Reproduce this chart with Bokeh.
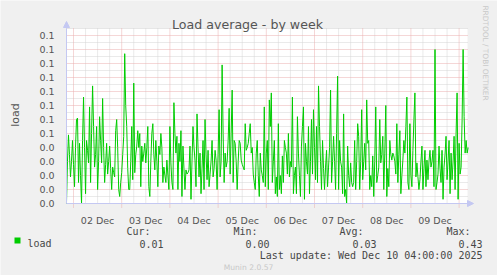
import numpy as np
import pandas as pd
from bokeh.plotting import figure
from bokeh.models import FixedTicker, Label, Arrow, NormalHead, Range1d, BoxAnnotation
from bokeh.embed import file_html
from bokeh.resources import INLINE

# ---------------- data ----------------
# load average, in thousandths (one value per 30 minutes)
load_milli = [
    0, 30, 49, 35, 19, 30, 45, 28, 12, 40, 60, 61, 15, 43, 20, 0, 45, 76, 40, 7,
    45, 38, 29, 69, 15, 50, 84, 55, 26, 35, 55, 10, 30, 62, 45, 29, 75, 40, 15, 28,
    43, 21, 30, 41, 25, 10, 26, 22, 19, 52,
    60, 40, 10, 5, 15, 22, 35, 48, 107, 70, 55, 25, 10, 10, 30, 55, 17, 86, 22, 35,
    41, 52, 40, 50, 12, 41, 30, 36, 43, 29, 40, 55, 12, 5, 30, 50, 57, 35, 24, 45,
    30, 12, 41, 35, 50, 40, 15, 26, 20, 15,
    31, 20, 10, 55, 29, 15, 10, 72, 50, 36, 48, 10, 43, 30, 52, 5, 41, 25, 10, 24,
    21, 22, 24, 41, 3, 30, 55, 40, 31, 12, 64, 40, 19, 36, 7, 25, 45, 10, 60, 35,
    17, 38, 12, 21, 30, 45, 19, 25, 38, 31,
    10, 35, 67, 19, 30, 99, 50, 15, 36, 26, 30, 45, 68, 21, 50, 81, 15, 45, 43, 30,
    10, 30, 45, 43, 31, 28, 26, 24, 57, 38, 40, 43, 50, 57, 36, 40, 21, 15, 10, 36,
    45, 20, 5, 36, 24, 20, 15, 69, 12, 36,
    45, 10, 74, 55, 79, 15, 30, 45, 7, 19, 5, 57, 10, 20, 7, 34, 15, 45, 40, 36,
    21, 50, 19, 30, 26, 76, 7, 20, 26, 7, 62, 36, 20, 5, 41, 55, 69, 3, 43, 30,
    21, 55, 7, 30, 60, 21, 67, 40, 17, 55,
    15, 84, 55, 30, 10, 45, 25, 10, 26, 38, 12, 26, 40, 81, 15, 30, 48, 30, 10, 50,
    91, 10, 45, 30, 26, 7, 64, 5, 10, 0, 41, 20, 12, 29, 15, 12, 15, 45, 10, 30,
    57, 48, 10, 30, 67, 17, 30, 43, 24, 74,
    43, 45, 10, 20, 12, 34, 5, 30, 69, 15, 20, 26, 60, 29, 35, 48, 10, 36, 70, 5,
    25, 12, 45, 35, 31, 36, 34, 30, 21, 57, 15, 35, 52, 7, 20, 31, 45, 36, 55, 76,
    15, 10, 57, 20, 12, 38, 60, 79, 19, 29,
    19, 10, 17, 30, 41, 10, 25, 38, 12, 31, 17, 30, 38, 26, 30, 38, 12, 110, 10, 15,
    21, 41, 25, 15, 38, 3, 26, 35, 48, 17, 30, 45, 7, 36, 17, 30, 48, 10, 50, 79,
    3, 43, 21, 26, 60, 110, 62, 36, 45, 36, 40,
]
series_end = "2025-12-10 04:30"
step = "30min"
origin = "2025-12-02 00:00"

day_labels = ["02 Dec", "03 Dec", "04 Dec", "05 Dec", "06 Dec", "07 Dec", "08 Dec", "09 Dec"]
y_ticks = [0.00, 0.01, 0.02, 0.03, 0.04, 0.05, 0.06, 0.07, 0.08, 0.09, 0.10, 0.11, 0.12]
y_tick_labels = ["0.0", "0.0", "0.0", "0.0", "0.0", "0.1", "0.1", "0.1", "0.1", "0.1", "0.1", "0.1", "0.1"]

title_text = "Load average - by week"
y_label_text = "load"
watermark = "RRDTOOL / TOBI OETIKER"
series_name = "load"
stat_headers = ["Cur:", "Min:", "Avg:", "Max:"]
stat_values = ["0.01", "0.00", "0.03", "0.43"]
last_update = "Last update: Wed Dec 10 04:00:00 2025"
version_text = "Munin 2.0.57"

# ---------------- derived ----------------
times = pd.date_range(end=series_end, periods=len(load_milli), freq=step)
hours = ((times - pd.Timestamp(origin)) / pd.Timedelta(hours=1)).to_numpy()
load = np.array(load_milli, dtype=float) / 1000.0

n_days = len(day_labels)
midnights = [24 * k for k in range(n_days + 1)]
noons = [24 * k + 12 for k in range(n_days)]
six_hours = [6 * k for k in range(0, 4 * n_days + 1) if (6 * k) % 24 != 0]
half_steps = [round(v + 0.005, 3) for v in y_ticks]

# ---------------- layout (canvas px -> data) ----------------
W, H = 497, 275
FL, FR, FT, FB = 66, 467, 28, 203        # plot area edges in canvas px
y_top = 0.125
px_per_hour = 48.2 / 24
x0 = -(73 - FL) / px_per_hour
x1 = x0 + (FR - FL) / px_per_hour
px_per_unit = (FB - FT) / y_top


def dx(px):
    return x0 + (px - FL) / px_per_hour


def dy(py):
    return (FB - py) / px_per_unit


axis_color = "#c4c8f2"
grey_grid = "#d4d4d4"
red_grid = "#eaaeae"
text_grey = "#555555"
text_dark = "#474747"
green = "#00cc00"

p = figure(width=W, height=H, x_range=Range1d(dx(0), dx(W)), y_range=Range1d(dy(H), dy(0)),
           output_backend="svg", toolbar_location=None, title=None, min_border=0,
           min_border_left=0, min_border_right=0, min_border_top=0, min_border_bottom=0,
           background_fill_color="#f0f0f0", border_fill_color="#f0f0f0", outline_line_color=None)
p.xgrid.visible = False
p.ygrid.visible = False

# plot area
p.quad(left=[x0], right=[x1], bottom=[0], top=[y_top], fill_color="white", line_color=None)

# grid (dotted): minor grey, major red
n6, nm, nh, nt = len(six_hours), len(midnights), len(half_steps), len(y_ticks) - 1
p.segment(x0=six_hours, y0=[0] * n6, x1=six_hours, y1=[y_top] * n6,
          line_color=grey_grid, line_width=1, line_dash="1 1")
p.segment(x0=[x0] * nh, y0=half_steps, x1=[x1] * nh, y1=half_steps,
          line_color=grey_grid, line_width=1, line_dash="1 1")
p.segment(x0=midnights, y0=[dy(FB + 4)] * nm, x1=midnights, y1=[y_top] * nm,
          line_color=red_grid, line_width=1, line_dash="1 1")
p.segment(x0=[x0] * nt, y0=y_ticks[1:], x1=[x1] * nt, y1=y_ticks[1:],
          line_color=red_grid, line_width=1, line_dash="1 1")

# data
p.line(hours, load, line_color=green, line_width=1)

# axes fixed on the plot-area edges
xa = p.xaxis[0]
xa.fixed_location = 0
xa.bounds = (x0, x1)
xa.ticker = FixedTicker(ticks=noons)
xa.major_label_overrides = {t: lbl for t, lbl in zip(noons, day_labels)}
xa.major_tick_line_color = None
xa.minor_tick_line_color = None
xa.axis_line_color = axis_color
xa.major_label_text_font = "DejaVu Sans"
xa.major_label_text_font_size = "9.5px"
xa.major_label_text_color = text_grey
xa.major_label_standoff = 5

ya = p.yaxis[0]
ya.fixed_location = x0
ya.bounds = (0, y_top)
ya.ticker = FixedTicker(ticks=y_ticks)
ya.major_label_overrides = {t: lbl for t, lbl in zip(y_ticks, y_tick_labels)}
ya.major_tick_line_color = None
ya.minor_tick_line_color = None
ya.axis_line_color = axis_color
ya.major_label_text_font = "DejaVu Sans"
ya.major_label_text_font_size = "9.5px"
ya.major_label_text_color = text_grey
ya.major_label_standoff = 6

# axis arrows
p.add_layout(Arrow(end=NormalHead(size=6, fill_color=axis_color, line_color=axis_color),
                   x_start=x1, y_start=0, x_end=dx(FR + 6), y_end=0, line_color=axis_color))
p.add_layout(Arrow(end=NormalHead(size=6, fill_color=axis_color, line_color=axis_color),
                   x_start=x0, y_start=y_top, x_end=x0, y_end=dy(FT - 7), line_color=axis_color))


def put(text, cx, cy, size, font="DejaVu Sans", color=text_grey, align="left", angle=0.0):
    p.add_layout(Label(x=dx(cx), y=dy(cy), text=text, text_font=font, text_font_size=size,
                       text_color=color, text_align=align, text_baseline="alphabetic",
                       angle=angle))


mono = "DejaVu Sans Mono"
put(title_text, 247, 24, "12.6px", align="center")
put(y_label_text, 15, 114.5, "11px", align="center", angle=np.pi / 2)
put(watermark, 485, 52.5, "7.4px", color="#c8c8c8", align="center", angle=-np.pi / 2)

# legend swatch and statistics
p.add_layout(BoxAnnotation(left=dx(14), right=dx(20), top=dy(237), bottom=dy(243),
                           fill_color=green, fill_alpha=1.0, line_color=None))
put(series_name, 27, 243, "10px", font=mono, color=text_dark)
header_right = [150, 257, 363, 470]
value_right = [163, 269, 376, 482]
for h, v, hx, vx in zip(stat_headers, stat_values, header_right, value_right):
    put(h, hx, 231, "10px", font=mono, color=text_dark, align="right")
    put(v, vx, 243, "10px", font=mono, color=text_dark, align="right")
put(last_update, 482, 255, "10px", font=mono, color=text_dark, align="right")
put(version_text, 248, 267, "7.6px", color="#c8c8c8", align="center")

open("out.html", "w").write(file_html(p, INLINE))
